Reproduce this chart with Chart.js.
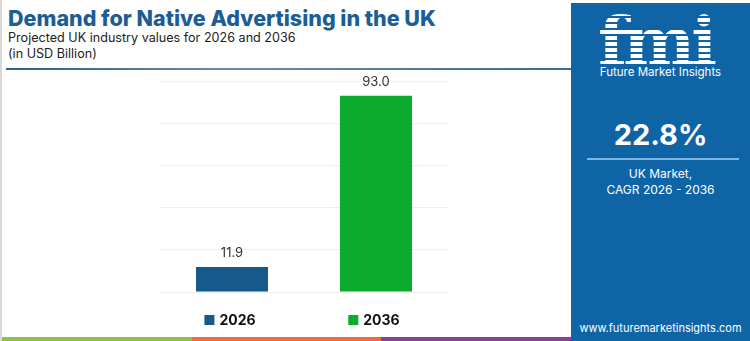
<!DOCTYPE html>
<html>
<head>
<meta charset="utf-8">
<script src="https://cdn.jsdelivr.net/npm/chart.js@4.4.1/dist/chart.umd.min.js"></script>
<style>
  html, body { margin: 0; padding: 0; background: #fff; }
  body { width: 750px; height: 341px; position: relative; overflow: hidden; font-family: "Inter", "Open Sans", sans-serif; }
  #leftEdge { position: absolute; left: 0; top: 0; width: 2px; height: 341px; background: #d9d9d9; }
  #title { position: absolute; left: 8px; top: 5px; font-size: 21.5px; font-weight: 800; color: #1b5d94; white-space: nowrap; }
  #sub1 { position: absolute; left: 8px; top: 30px; font-size: 12.6px; color: #222; white-space: nowrap; }
  #sub2 { position: absolute; left: 8px; top: 46px; font-size: 12.6px; color: #222; white-space: nowrap; }
  #rule { position: absolute; left: 6px; top: 68px; width: 565px; height: 2px; background: linear-gradient(90deg, #2f5f86, #6d8aa3 40%, #3d6a90); }
  #wrap { position: absolute; left: 140px; top: 72px; width: 330px; height: 265px; }
  #panel { position: absolute; left: 571px; top: 3px; width: 179px; height: 338px; background: #0f64a6; color: #fff; text-align: center; }
  #logo { position: absolute; left: 0; top: 3px; width: 179px; font-family: "DejaVu Serif", serif; font-weight: 700; font-size: 68px; line-height: 70px; letter-spacing: -4px; text-indent: -10px;
          background: repeating-linear-gradient(180deg, #fff 0 4px, transparent 4px 6px); -webkit-background-clip: text; background-clip: text; color: transparent; }
  #fmiName { position: absolute; left: 0; width: 179px; top: 62px; font-size: 11.5px; }
  #cagr { position: absolute; left: 0; width: 179px; top: 114px; font-size: 29px; font-weight: 700; }
  #line { position: absolute; left: 16px; width: 152px; top: 155px; height: 2px; background: #7fb6e0; }
  #mk1 { position: absolute; left: 0; width: 179px; top: 163px; font-size: 12px; }
  #mk2 { position: absolute; left: 0; width: 179px; top: 179px; font-size: 12px; }
  #url { position: absolute; left: 0; width: 179px; top: 318px; font-size: 11px; }
  #stripe { position: absolute; left: 2px; top: 337px; width: 569px; height: 4px; display: flex; }
  #stripe div { flex: 1; }
</style>
</head>
<body>
<div id="leftEdge"></div>
<div id="title">Demand for Native Advertising in the UK</div>
<div id="sub1">Projected UK industry values for 2026 and 2036</div>
<div id="sub2">(in USD Billion)</div>
<div id="rule"></div>
<div id="wrap"><canvas id="chart"></canvas></div>
<div id="stripe"><div style="background:#8bc34a"></div><div style="background:#ee6c3c"></div><div style="background:#8e3d9a"></div></div>
<div id="panel">
  <div id="logo">fmi</div>
  <div id="fmiName">Future Market Insights</div>
  <div id="cagr">22.8%</div>
  <div id="line"></div>
  <div id="mk1">UK Market,</div>
  <div id="mk2">CAGR 2026 - 2036</div>
  <div id="url">www.futuremarketinsights.com</div>
</div>
<script>
// data
const years = ['2026', '2036'];
const values = [11.9, 93.0];
const barColors = ['#155a8a', '#0bab2d'];
const yTicks = [0, 20, 40, 60, 80, 100];

// numbers above the bars
const valueLabels = {
    id: 'valueLabels',
    afterDatasetsDraw(chart) {
        const ctx = chart.ctx;
        const meta = chart.getDatasetMeta(0);
        ctx.save();
        ctx.font = '13px Inter, "Open Sans", sans-serif';
        ctx.fillStyle = '#333';
        ctx.textAlign = 'center';
        ctx.textBaseline = 'bottom';
        meta.data.forEach((bar, i) => {
            ctx.fillText(values[i].toFixed(1), bar.x, bar.y - 7);
        });
        ctx.restore();
    }
};

// legend row under the bars, one entry per year
const yearLegend = {
    id: 'yearLegend',
    afterDraw(chart) {
        const ctx = chart.ctx;
        const meta = chart.getDatasetMeta(0);
        const y = chart.chartArea.bottom + 28;
        ctx.save();
        ctx.font = 'bold 14px Inter, "Open Sans", sans-serif';
        ctx.textBaseline = 'middle';
        meta.data.forEach((bar, i) => {
            const textW = ctx.measureText(years[i]).width;
            const itemW = 10 + 5 + textW;
            const x0 = bar.x - itemW / 2 - 2;
            ctx.fillStyle = barColors[i];
            ctx.fillRect(x0, y - 5, 10, 10);
            ctx.fillStyle = '#111';
            ctx.fillText(years[i], x0 + 15, y + 1);
        });
        ctx.restore();
    }
};

var ctx = document.getElementById('chart').getContext('2d');

var demandChart = new Chart(ctx, {
    type: 'bar',
    data: {
        labels: years,
        datasets: [{
            label: 'Market value',
            data: values,
            backgroundColor: barColors,
            borderWidth: 0,
            categoryPercentage: 1,
            barPercentage: 0.5
        }]
    },
    options: {
        responsive: true,
        maintainAspectRatio: false,
        animation: false,
        layout: {
            padding: { left: 20, right: 22, top: 9, bottom: 45 }
        },
        scales: {
            x: {
                display: false
            },
            y: {
                min: 0,
                max: 100,
                afterBuildTicks: (axis) => { axis.ticks = yTicks.map(v => ({ value: v })); },
                ticks: { display: false },
                border: { display: false },
                grid: { color: '#efefef', lineWidth: 1, drawTicks: false }
            }
        },
        plugins: {
            tooltip: { enabled: false },
            legend: { display: false }
        }
    },
    plugins: [valueLabels, yearLegend]
});
</script>
</body>
</html>
